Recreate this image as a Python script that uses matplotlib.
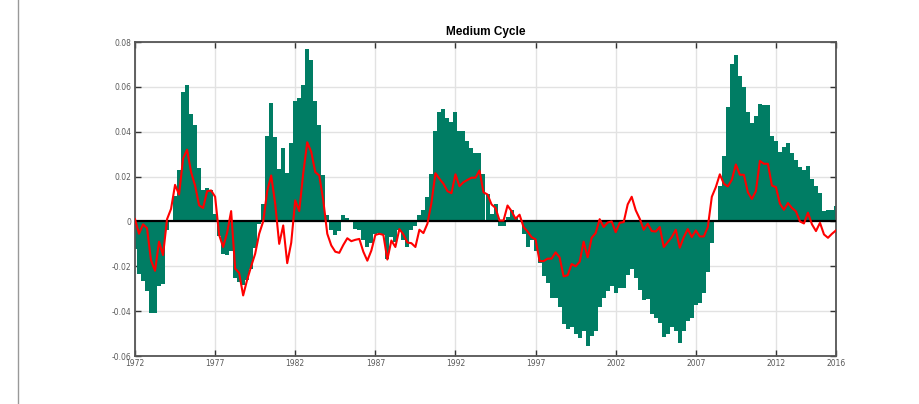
import matplotlib

matplotlib.use("Agg")
import matplotlib.pyplot as plt
import numpy as np

plt.rcParams["font.family"] = ["Liberation Sans", "DejaVu Sans"]

# quarterly series, 1972Q1 .. 2015Q4
START_YEAR = 1972
cycle_bars = [
    -0.0125, -0.0233, -0.0266, -0.0310, -0.0410, -0.0408, -0.0288, -0.0280,
    -0.0037, 0.0005, 0.0113, 0.0230, 0.0575, 0.0610, 0.0477, 0.0432,
    0.0236, 0.0138, 0.0147, 0.0138, 0.0035, -0.0067, -0.0147, -0.0151,
    -0.0132, -0.0250, -0.0270, -0.0285, -0.0260, -0.0210, -0.0120, -0.0010,
    0.0076, 0.0380, 0.0530, 0.0375, 0.0232, 0.0328, 0.0214, 0.0350,
    0.0538, 0.0552, 0.0610, 0.0770, 0.0720, 0.0538, 0.0430, 0.0205,
    0.0030, -0.0036, -0.0060, -0.0043, 0.0030, 0.0015, 0.0005, -0.0033,
    -0.0036, -0.0085, -0.0114, -0.0097, -0.0055, -0.0050, -0.0060, -0.0166,
    -0.0070, -0.0090, -0.0040, -0.0085, -0.0114, -0.0037, -0.0020, 0.0030,
    0.0050, 0.0110, 0.0210, 0.0405, 0.0486, 0.0500, 0.0460, 0.0443,
    0.0490, 0.0405, 0.0405, 0.0360, 0.0328, 0.0307, 0.0307, 0.0210,
    0.0123, 0.0034, 0.0076, -0.0020, -0.0020, 0.0020, 0.0050, 0.0020,
    0.0004, -0.0055, -0.0114, -0.0085, -0.0130, -0.0186, -0.0245, -0.0273,
    -0.0340, -0.0340, -0.0380, -0.0459, -0.0480, -0.0470, -0.0500, -0.0520,
    -0.0490, -0.0554, -0.0510, -0.0490, -0.0380, -0.0340, -0.0310, -0.0288,
    -0.0320, -0.0296, -0.0296, -0.0240, -0.0212, -0.0250, -0.0304, -0.0350,
    -0.0345, -0.0411, -0.0430, -0.0451, -0.0515, -0.0500, -0.0470, -0.0490,
    -0.0540, -0.0488, -0.0445, -0.0430, -0.0374, -0.0364, -0.0320, -0.0226,
    -0.0097, 0.0007, 0.0157, 0.0290, 0.0512, 0.0700, 0.0740, 0.0650,
    0.0600, 0.0490, 0.0440, 0.0470, 0.0524, 0.0520, 0.0520, 0.0380,
    0.0360, 0.0310, 0.0330, 0.0350, 0.0307, 0.0275, 0.0243, 0.0230,
    0.0245, 0.0190, 0.0157, 0.0125, 0.0045, 0.0050, 0.0053, 0.0067,
]
cycle_line = [
    0.0010, -0.0055, -0.0013, -0.0030, -0.0174, -0.0220, -0.0090, -0.0150,
    0.0010, 0.0056, 0.0163, 0.0120, 0.0280, 0.0320, 0.0220, 0.0160,
    0.0072, 0.0060, 0.0135, 0.0138, 0.0110, -0.0060, -0.0114, -0.0050,
    0.0046, -0.0210, -0.0230, -0.0330, -0.0260, -0.0200, -0.0144, -0.0055,
    0.0000, 0.0135, 0.0205, 0.0079, -0.0100, -0.0018, -0.0186, -0.0095,
    0.0094, 0.0046, 0.0215, 0.0353, 0.0310, 0.0220, 0.0205, 0.0094,
    -0.0055, -0.0107, -0.0135, -0.0140, -0.0105, -0.0075, -0.0088, -0.0082,
    -0.0078, -0.0135, -0.0175, -0.0130, -0.0060, -0.0055, -0.0060, -0.0170,
    -0.0085, -0.0114, -0.0034, -0.0058, -0.0094, -0.0097, -0.0114, -0.0037,
    -0.0052, -0.0010, 0.0082, 0.0215, 0.0190, 0.0168, 0.0135, 0.0126,
    0.0210, 0.0157, 0.0175, 0.0185, 0.0195, 0.0195, 0.0227, 0.0130,
    0.0120, 0.0076, 0.0060, 0.0004, 0.0004, 0.0071, 0.0046, 0.0012,
    0.0030, -0.0025, -0.0045, -0.0070, -0.0080, -0.0177, -0.0177, -0.0166,
    -0.0166, -0.0138, -0.0160, -0.0245, -0.0240, -0.0190, -0.0200, -0.0180,
    -0.0090, -0.0160, -0.0073, -0.0052, 0.0010, -0.0025, -0.0005, 0.0000,
    -0.0048, -0.0006, -0.0003, 0.0076, 0.0110, 0.0050, 0.0012, -0.0037,
    -0.0010, -0.0043, -0.0045, -0.0025, -0.0114, -0.0092, -0.0070, -0.0037,
    -0.0117, -0.0070, -0.0034, -0.0070, -0.0040, -0.0067, -0.0067, -0.0025,
    0.0110, 0.0153, 0.0210, 0.0168, 0.0156, 0.0186, 0.0254, 0.0208,
    0.0208, 0.0130, 0.0100, 0.0135, 0.0270, 0.0257, 0.0257, 0.0160,
    0.0153, 0.0079, 0.0052, 0.0082, 0.0060, 0.0045, 0.0000, -0.0009,
    0.0039, -0.0013, -0.0043, -0.0006, -0.0058, -0.0073, -0.0055, -0.0040,
]
year_ticks = [1972, 1977, 1982, 1987, 1992, 1997, 2002, 2007, 2012, 2015.75]
year_labels = ["1972", "1977", "1982", "1987", "1992", "1997", "2002", "2007", "2012", "2016"]
value_ticks = [-0.06, -0.04, -0.02, 0.0, 0.02, 0.04, 0.06, 0.08]
value_labels = ["-0.06", "-0.04", "-0.02", "0", "0.02", "0.04", "0.06", "0.08"]

BAR_COLOR = "#007d64"
LINE_COLOR = "#ff0000"

t = START_YEAR + np.arange(len(cycle_bars)) / 4.0

fig = plt.figure(figsize=(9.19, 4.04), dpi=100)
ax = fig.add_axes([135 / 919, 1 - 356 / 404, 701 / 919, 314 / 404])

ax.bar(t, cycle_bars, width=0.25, color=BAR_COLOR, linewidth=0,
       antialiased=False, zorder=2)
ax.axhline(0, color="black", lw=1.6, zorder=3)
ax.plot(t, cycle_line, color=LINE_COLOR, lw=1.5, zorder=4)

ax.set_xlim(START_YEAR, 2015.75)
ax.set_ylim(-0.06, 0.08)
ax.set_xticks(year_ticks)
ax.set_xticklabels(year_labels)
ax.set_yticks(value_ticks)
ax.set_yticklabels(value_labels)
ax.tick_params(direction="in", length=4, width=1, color="#333333",
               labelsize=5.5, labelcolor="#5a5a5a", pad=2.5,
               top=True, right=True)
for lbl in ax.get_xticklabels() + ax.get_yticklabels():
    lbl.set_family("DejaVu Sans")
ax.grid(True, color="#e2e2e2", lw=1, zorder=0)
ax.set_axisbelow(True)
for spine in ax.spines.values():
    spine.set_color("#555555")
    spine.set_linewidth(1.3)

ax.set_title("Medium Cycle", fontsize=8.5, fontweight="bold", pad=5)

# thin frame line down the left edge
fig.add_artist(plt.Line2D([18 / 919, 18 / 919], [0, 1], color="#999999", lw=1))

fig.savefig("out.png", dpi=100)
